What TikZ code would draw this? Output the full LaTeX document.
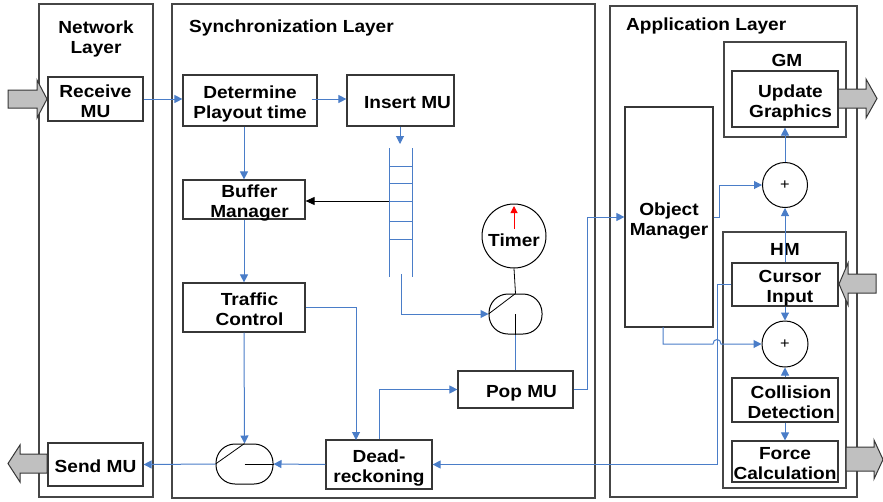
\documentclass[tikz,border=0pt]{standalone}
\usepackage{fontspec}
\setmainfont{Liberation Sans}[FakeStretch=1.09]
\usetikzlibrary{arrows.meta,calc}
\definecolor{blu}{RGB}{74,125,200}
\definecolor{boxgray}{RGB}{55,55,55}
\definecolor{laygray}{RGB}{70,70,70}
\definecolor{fatgray}{RGB}{192,192,192}
\newcommand{\bfnt}{\fontsize{17.5}{20}\selectfont\bfseries}
\tikzset{
  layer/.style={draw=laygray, line width=1.2pt, inner sep=0pt},
  box/.style={draw=boxgray, line width=1.2pt, fill=white, inner sep=0pt},
  txt/.style={font=\bfnt, align=center, inner sep=0pt, text depth=0pt, yshift=-2pt},
  sw/.style={draw=black, line width=1pt, fill=white, rounded corners=19pt, inner sep=0pt},
  circ/.style={circle, draw=black, line width=1pt, fill=white, inner sep=0pt},
  conn/.style={draw=blu, line width=1pt},
  arr/.style={conn, -{Triangle[length=8pt,width=8pt]}},
  blk/.style={draw=black, line width=0.8pt},
  blkarr/.style={blk, -{Triangle[length=9pt,width=8pt]}},
  fat/.style={draw=boxgray, fill=fatgray, line width=1pt},
  title/.style={font=\bfnt, inner sep=0pt, align=center, text depth=0pt},
}
\begin{document}
\begin{tikzpicture}[x=1pt,y=-1pt]
\useasboundingbox (0,0) rectangle (883,501);
% layers
\node[layer, minimum width=114pt, minimum height=493pt] (net) at (96,250.5) {};
\node[layer, minimum width=423pt, minimum height=494pt] (sync) at (383.5,251) {};
\node[layer, minimum width=247pt, minimum height=491pt] (app) at (733.5,251.5) {};
\node[title] (nett) at (96,37.5) {Network\\Layer};
\node[title, anchor=west] (synct) at (189,26.5) {Synchronization Layer};
\node[title, anchor=west] (appt) at (626,24) {Application Layer};
% GM / HM containers
\node[layer, minimum width=122pt, minimum height=95pt] (gm) at (785,89.5) {};
\node[title] (gmt) at (787,60.5) {GM};
\node[layer, minimum width=123pt, minimum height=256pt] (hm) at (784.5,360) {};
\node[title] (hmt) at (785,249.5) {HM};
% fat arrows
\path[fat] (8,90) -- (37,90) -- (37,80) -- (47,99) -- (37,118) -- (37,108) -- (8,108) -- cycle;
\path[fat] (47,454) -- (20,454) -- (20,445) -- (8,463.5) -- (20,482) -- (20,473) -- (47,473) -- cycle;
\path[fat] (838,89) -- (866,89) -- (866,79) -- (877,98.5) -- (866,118) -- (866,108) -- (838,108) -- cycle;
\path[fat] (876,274) -- (848,274) -- (848,263) -- (839,284) -- (848,305) -- (848,293) -- (876,293) -- cycle;
\path[fat] (846,447) -- (874,447) -- (874,440) -- (883,459.5) -- (874,479) -- (874,471) -- (846,471) -- cycle;
% boxes
\node[box, minimum width=95pt, minimum height=44pt, label={[txt]center:{Receive\\MU}}] (recv) at (95.5,99) {};
\node[box, minimum width=95pt, minimum height=43pt, label={[txt]center:{Send MU}}] (send) at (95.5,464.5) {};
\node[box, minimum width=134pt, minimum height=51pt, label={[txt]center:{Determine\\Playout time}}] (det) at (250,100.5) {};
\node[box, minimum width=107pt, minimum height=51pt, label={[txt,xshift=7pt]center:{Insert MU}}] (ins) at (400.5,100.5) {};
\node[box, minimum width=122pt, minimum height=39pt, label={[txt,xshift=5.5pt]center:{Buffer\\Manager}}] (buf) at (244,199.5) {};
\node[box, minimum width=122pt, minimum height=49pt, label={[txt,xshift=5.5pt]center:{Traffic\\Control}}] (traf) at (244,307.5) {};
\node[box, minimum width=106pt, minimum height=49pt, label={[txt]center:{Dead-\\reckoning}}] (dead) at (379,464.5) {};
\node[box, minimum width=115pt, minimum height=37pt, label={[txt,xshift=6pt]center:{Pop MU}}] (pop) at (515.5,389.5) {};
\node[box, minimum width=88pt, minimum height=220pt, label={[txt]center:{Object\\Manager}}] (om) at (669,217) {};
\node[box, minimum width=106pt, minimum height=56pt, label={[txt,xshift=5.5pt]center:{Update\\Graphics}}] (upd) at (785,99) {};
\node[box, minimum width=106pt, minimum height=43pt, label={[txt,xshift=5pt]center:{Cursor\\Input}}] (cur) at (785,284.5) {};
\node[box, minimum width=106pt, minimum height=44pt, label={[txt,xshift=6pt]center:{Collision\\Detection}}] (col) at (785,400) {};
\node[box, minimum width=106pt, minimum height=41pt, label={[txt]center:{Force\\Calculation}}] (force) at (785,461.5) {};
% circles and switches
\node[circ, minimum size=64pt, label={[txt,yshift=-2.5pt]center:{Timer}}] (timer) at (514,236) {};
\node[circ, minimum size=45pt, font=\fontsize{15}{15}\selectfont] (plus1) at (785,185) {+};
\node[circ, minimum size=46pt, font=\fontsize{15}{15}\selectfont] (plus2) at (785,344) {+};
\node[sw, minimum width=53pt, minimum height=40pt] (sw1) at (515.5,314) {};
\node[sw, minimum width=57pt, minimum height=40pt] (sw2) at (244.5,464) {};
% queue ladder
\coordinate (qtop) at (400,144);
\coordinate (qmid) at (389,201);
\coordinate (qbot) at (401,274);
\draw[conn] (389,148) -- (389,277);
\draw[conn] (412,148) -- (412,277);
\foreach \yy in {166,183,201,221,239} \draw[conn] (389,\yy) -- (412,\yy);
% timer arrow
\draw[draw=red, line width=1pt, -{Triangle[length=7pt,width=7pt]}] ($(timer.center)+(0,-7)$) -- ($(timer.center)+(0,-30)$);
% switch internals
\draw[blk] (sw1.west) -- (sw1.north);
\draw[blk] (sw1.center) -- (sw1.south);
\draw[blk] (timer.south) -- (sw1.north);
\draw[blk] (sw2.west) -- (sw2.north);
\draw[blk] (sw2.center) -- (sw2.east);
% connectors
\coordinate (dn) at (356,440);
\coordinate (pc) at (587,217);
\coordinate (oa) at (719,217);
\coordinate (ob) at (663,327);
\coordinate (cl) at (717,284.5);
\draw[arr] (recv.east) -- (recv.east -| det.west);
\draw[arr] ($(det.east)+(-6,-1.5)$) -- (ins.west |- 0,99);
\draw[arr] (buf.north |- det.south) -- (buf.north);
\draw[arr] (buf.south) -- (traf.north);
\draw[arr] (ins.south -| qtop) -- (qtop);
\draw[blkarr] (qmid) -- (qmid -| buf.east);
\draw[arr] (qbot) |- (sw1.west);
\draw[conn] (sw1.south) -- (pop.north);
\draw[arr] (traf.east) -| (dn);
\draw[arr] (traf.south) -- (sw2.north);
\draw[arr] (dead.north) |- (pop.west);
\draw[arr] (pop.east) -| (pc) -- (om.west);
\draw[arr] (dead.west) -- (sw2.east);
\draw[arr] (sw2.west) -- (send.east);
\draw[arr] (om.east) -- (oa) |- (plus1.west);
\draw[arr] (plus1.north) -- (upd.south);
\draw[arr] (cur.north) -- (plus1.south);
\draw[arr] (cur.south) -- (plus2.north);
\draw[arr] (col.north) -- (plus2.south);
\draw[arr] (col.south) -- (force.north);
\draw[arr] (ob) -- (ob |- plus2.west) -- (713,344) .. controls (713,338) and (721,338) .. (721,344) -- (plus2.west);
\draw[arr] (cur.west) -- (cl) |- (dead.east);
\end{tikzpicture}
\end{document}
